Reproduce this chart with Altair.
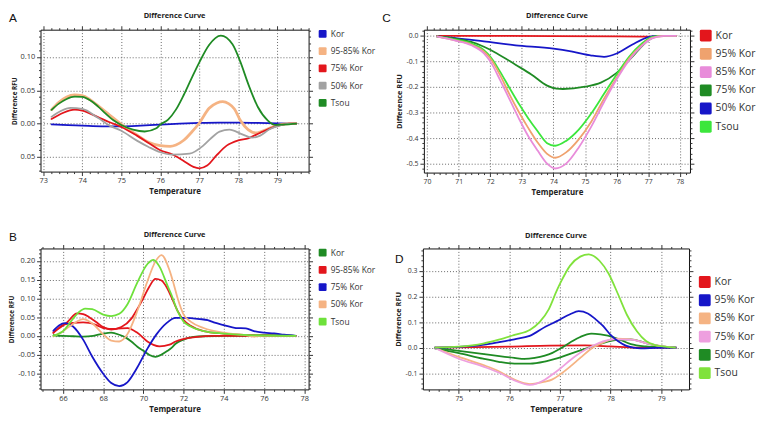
import altair as alt
import pandas as pd

# ---------------- Panel A ----------------
A_labels = ["Kor", "95-85% Kor", "75% Kor", "50% Kor", "Tsou"]
A_colors = ["#1616C8", "#F5B383", "#E3161C", "#A2A2A2", "#1F8B24"]
A_kor_x = [73.2, 73.5, 74.0, 74.5, 75.0, 75.5, 76.0, 76.5, 77.0, 77.5, 78.0, 78.5, 79.0, 79.5]
A_kor_y = [-0.001, -0.002, -0.003, -0.004, -0.004, -0.003, -0.0015, 0.0, 0.001, 0.0015, 0.0015, 0.001, 0.0005, 0.0]
A_o_x = [73.2, 73.4, 73.6, 73.8, 74.0, 74.2, 74.4, 74.7, 75.0, 75.4, 75.7, 76.0, 76.25, 76.4, 76.6, 76.8, 77.0, 77.25, 77.45, 77.6, 77.75, 77.9, 78.05, 78.25, 78.45, 78.75, 79.0, 79.3, 79.5]
A_o_y = [0.020, 0.032, 0.040, 0.043, 0.042, 0.036, 0.027, 0.013, -0.001, -0.017, -0.028, -0.033, -0.034, -0.032, -0.025, -0.013, 0.001, 0.023, 0.031, 0.033, 0.030, 0.022, 0.005, -0.009, -0.014, -0.008, -0.0025, 0.0, 0.0]
A_r_x = [73.2, 73.5, 73.8, 74.0, 74.4, 74.7, 75.0, 75.4, 75.7, 76.0, 76.3, 76.6, 76.85, 77.0, 77.2, 77.45, 77.7, 78.0, 78.25, 78.55, 78.8, 79.05, 79.3, 79.5]
A_r_y = [0.0064, 0.016, 0.021, 0.0196, 0.0098, 0.002, -0.005, -0.018, -0.029, -0.040, -0.046, -0.056, -0.065, -0.067, -0.063, -0.047, -0.033, -0.025, -0.022, -0.014, -0.0074, -0.0025, 0.0, 0.0]
A_g_x = [73.2, 73.45, 73.7, 74.0, 74.4, 74.7, 75.0, 75.4, 75.7, 76.0, 76.3, 76.75, 77.1, 77.3, 77.52, 77.77, 78.1, 78.35, 78.56, 78.8, 79.05, 79.3, 79.5]
A_g_y = [0.0098, 0.019, 0.0235, 0.022, 0.0088, -0.003, -0.0108, -0.0255, -0.035, -0.043, -0.0466, -0.045, -0.033, -0.022, -0.012, -0.009, -0.016, -0.021, -0.018, -0.0085, -0.003, 0.0, 0.0]
A_t_x = [73.2, 73.4, 73.6, 73.8, 74.0, 74.2, 74.4, 74.6, 74.8, 75.0, 75.3, 75.6, 75.9, 76.0, 76.2, 76.4, 76.6, 76.8, 77.0, 77.25, 77.55, 77.85, 78.05, 78.25, 78.5, 78.75, 78.95, 79.15, 79.5]
A_t_y = [0.020, 0.030, 0.037, 0.0405, 0.040, 0.035, 0.026, 0.015, 0.005, -0.002, -0.009, -0.0118, -0.007, -0.0015, 0.006, 0.021, 0.043, 0.068, 0.092, 0.118, 0.132, 0.119, 0.093, 0.060, 0.025, 0.005, -0.002, -0.0015, 0.0]

# ---------------- Panel B ----------------
B_labels = ["Kor", "95-85% Kor", "75% Kor", "50% Kor", "Tsou"]
B_colors = ["#1F8B24", "#E3161C", "#1616C8", "#F5B383", "#6EE13B"]
B_k_x = [65.5, 66.0, 66.5, 67.0, 67.5, 68.0, 68.4, 68.8, 69.1, 69.4, 69.7, 70.0, 70.3, 70.6, 70.9, 71.2, 71.4, 71.6, 72.0, 72.5, 73.0, 74.0, 75.0, 76.0, 77.0, 77.6]
B_k_y = [0.0017, 0.0, -0.001, -0.002, 0.0, 0.006, 0.0084, 0.003, -0.004, -0.015, -0.029, -0.040, -0.051, -0.056, -0.050, -0.040, -0.032, -0.021, -0.010, -0.003, -0.001, 0.0, 0.0, 0.002, 0.002, 0.0]
B_r1_x = [65.5, 65.8, 66.2, 66.7, 67.0, 67.3, 67.7, 68.0, 68.4, 68.9, 69.4, 69.7, 70.0, 70.3, 70.6, 70.9, 71.1, 71.4, 71.7, 72.0, 72.35, 73.0, 74.0, 75.0, 76.0, 77.6]
B_r1_y = [0.0084, 0.020, 0.036, 0.060, 0.058, 0.050, 0.035, 0.0235, 0.0168, 0.0235, 0.046, 0.072, 0.101, 0.132, 0.152, 0.148, 0.135, 0.103, 0.067, 0.042, 0.027, 0.0126, 0.006, 0.0025, 0.001, 0.0]
B_r2_x = [65.5, 66.0, 66.5, 67.0, 67.3, 67.7, 68.0, 68.6, 69.2, 69.7, 70.2, 70.5, 70.8, 71.3, 71.6, 72.0, 72.7, 73.5, 75.0, 77.6]
B_r2_y = [0.0067, 0.029, 0.035, 0.036, 0.035, 0.028, 0.021, 0.0185, 0.021, 0.0084, -0.015, -0.024, -0.028, -0.0235, -0.015, -0.0084, -0.0025, 0.0, 0.0, 0.0]
B_b_x = [65.5, 65.8, 66.1, 66.5, 67.0, 67.45, 68.0, 68.4, 68.8, 69.2, 69.7, 70.2, 70.65, 71.15, 71.6, 72.0, 72.8, 73.2, 73.5, 74.0, 74.6, 75.1, 75.5, 76.0, 76.5, 77.0, 77.6]
B_b_y = [0.0126, 0.028, 0.034, 0.025, -0.010, -0.055, -0.101, -0.126, -0.134, -0.124, -0.084, -0.034, 0.004, 0.034, 0.048, 0.048, 0.045, 0.042, 0.036, 0.029, 0.021, 0.020, 0.0126, 0.0084, 0.0067, 0.003, 0.0]
B_o_x = [65.5, 66.0, 66.5, 67.0, 67.45, 68.0, 68.4, 68.8, 69.2, 69.7, 70.2, 70.6, 70.9, 71.3, 71.5, 71.7, 72.0, 72.35, 73.0, 74.0, 75.0, 75.5, 76.0, 77.6]
B_o_y = [-0.0017, 0.0126, 0.032, 0.045, 0.0336, 0.0042, -0.0126, -0.015, 0.0042, 0.067, 0.146, 0.199, 0.216, 0.175, 0.140, 0.101, 0.057, 0.038, 0.021, 0.0084, 0.0025, -0.0017, 0.0, 0.0]
B_t_x = [65.5, 66.0, 66.5, 66.8, 67.1, 67.45, 68.0, 68.4, 68.8, 69.2, 69.7, 70.2, 70.5, 70.8, 71.2, 71.4, 71.7, 72.0, 72.35, 73.0, 74.0, 75.0, 77.6]
B_t_y = [0.0, 0.0126, 0.046, 0.064, 0.073, 0.0714, 0.057, 0.053, 0.059, 0.084, 0.143, 0.192, 0.203, 0.185, 0.134, 0.109, 0.066, 0.038, 0.025, 0.0126, 0.006, 0.0025, 0.0]

# ---------------- Panel C ----------------
C_labels = ["Kor", "95% Kor", "85% Kor", "75% Kor", "50% Kor", "Tsou"]
C_colors = ["#E3161C", "#EFA26E", "#E88CDA", "#1F8B24", "#1616C8", "#3CE63C"]
C_k_x = [70.3, 72.0, 74.0, 76.0, 77.0, 77.5, 77.9]
C_k_y = [0.0, -0.0005, -0.001, -0.002, -0.003, -0.001, 0.0]
C_b_x = [70.3, 70.9, 71.8, 72.8, 74.0, 74.6, 75.2, 75.6, 76.0, 76.5, 77.0, 77.3, 77.9]
C_b_y = [-0.0025, -0.009, -0.022, -0.037, -0.050, -0.062, -0.077, -0.082, -0.069, -0.034, -0.005, 0.0, 0.0]
C_g_x = [70.3, 70.9, 71.4, 71.8, 72.2, 72.8, 73.3, 73.8, 74.1, 74.3, 75.0, 75.5, 76.0, 76.5, 77.0, 77.3, 77.9]
C_g_y = [-0.0025, -0.011, -0.024, -0.043, -0.068, -0.113, -0.151, -0.195, -0.207, -0.208, -0.199, -0.183, -0.145, -0.081, -0.018, -0.001, 0.0]
C_t_x = [70.3, 70.9, 71.4, 71.8, 72.0, 72.3, 72.6, 72.9, 73.2, 73.5, 73.8, 74.05, 74.4, 74.8, 75.2, 75.6, 76.0, 76.4, 76.8, 77.1, 77.4, 77.9]
C_t_y = [-0.0025, -0.015, -0.030, -0.056, -0.081, -0.138, -0.202, -0.265, -0.322, -0.373, -0.420, -0.430, -0.411, -0.367, -0.303, -0.227, -0.151, -0.081, -0.030, -0.005, 0.0, 0.0]
C_o_x = [70.3, 70.9, 71.4, 71.8, 72.0, 72.3, 72.6, 72.9, 73.2, 73.5, 73.8, 74.05, 74.4, 74.8, 75.2, 75.6, 76.0, 76.4, 76.8, 77.1, 77.5, 77.9]
C_o_y = [-0.0025, -0.018, -0.034, -0.062, -0.088, -0.151, -0.227, -0.297, -0.360, -0.4175, -0.462, -0.477, -0.456, -0.405, -0.335, -0.246, -0.164, -0.088, -0.037, -0.009, 0.0, 0.0]
C_p_x = [70.3, 70.9, 71.4, 71.8, 72.0, 72.3, 72.6, 72.9, 73.2, 73.5, 73.8, 74.05, 74.4, 74.8, 75.2, 75.6, 76.0, 76.4, 76.8, 77.1, 77.5, 77.9]
C_p_y = [-0.0025, -0.019, -0.037, -0.0685, -0.100, -0.170, -0.246, -0.322, -0.392, -0.449, -0.500, -0.519, -0.500, -0.4365, -0.354, -0.259, -0.170, -0.094, -0.039, -0.011, 0.0, 0.0]

# ---------------- Panel D ----------------
D_labels = ["Kor", "95% Kor", "85% Kor", "75% Kor", "50% Kor", "Tsou"]
D_colors = ["#E3161C", "#1616C8", "#F5B383", "#EE9FDF", "#1F8B24", "#80E23C"]
D_k_x = [74.52, 75.0, 76.0, 76.8, 77.5, 78.0, 78.5, 79.3]
D_k_y = [0.0, 0.001, 0.004, 0.008, 0.009, 0.005, 0.0, 0.0]
D_b_x = [74.52, 75.0, 75.5, 75.8, 76.1, 76.4, 76.72, 76.94, 77.2, 77.37, 77.55, 77.7, 77.85, 78.0, 78.15, 78.3, 78.45, 78.6, 78.9, 79.3]
D_b_y = [0.0, 0.003, 0.012, 0.022, 0.033, 0.046, 0.083, 0.104, 0.131, 0.143, 0.134, 0.112, 0.085, 0.050, 0.025, 0.008, 0.0, -0.003, -0.001, 0.0]
D_o_x = [74.52, 75.0, 75.5, 75.8, 76.1, 76.4, 76.7, 76.84, 77.0, 77.2, 77.4, 77.65, 77.85, 78.1, 78.4, 78.7, 79.0, 79.3]
D_o_y = [0.0, -0.036, -0.069, -0.093, -0.125, -0.142, -0.133, -0.125, -0.105, -0.074, -0.040, 0.001, 0.020, 0.035, 0.033, 0.018, 0.006, 0.0]
D_p_x = [74.52, 75.0, 75.5, 75.8, 76.1, 76.4, 76.7, 76.84, 77.0, 77.2, 77.4, 77.65, 77.85, 78.05, 78.4, 78.7, 79.0, 79.3]
D_p_y = [0.0, -0.043, -0.075, -0.098, -0.128, -0.145, -0.125, -0.106, -0.082, -0.049, -0.020, 0.0075, 0.025, 0.033, 0.032, 0.018, 0.006, 0.0]
D_g1_x = [74.52, 75.0, 75.5, 75.8, 76.1, 76.3, 76.5, 76.7, 76.84, 77.0, 77.2, 77.4, 77.62, 77.8, 78.09, 78.4, 78.7, 79.0, 79.3]
D_g1_y = [0.0, -0.012, -0.025, -0.033, -0.040, -0.044, -0.040, -0.031, -0.021, -0.004, 0.020, 0.042, 0.055, 0.052, 0.039, 0.014, 0.005, 0.002, 0.0]
D_g2_x = [74.52, 75.0, 75.48, 75.79, 76.1, 76.41, 76.72, 76.94, 77.2, 77.65, 78.09, 78.4, 78.7, 79.02, 79.3]
D_g2_y = [-0.0025, -0.021, -0.043, -0.055, -0.062, -0.062, -0.053, -0.042, -0.024, 0.005, 0.030, 0.033, 0.018, 0.005, 0.0]
D_t_x = [74.52, 75.0, 75.48, 75.79, 76.1, 76.41, 76.6, 76.78, 76.94, 77.02, 77.2, 77.4, 77.57, 77.78, 77.96, 78.15, 78.33, 78.52, 78.7, 78.89, 79.07, 79.29]
D_t_y = [0.0, 0.004, 0.0164, 0.0314, 0.050, 0.070, 0.101, 0.151, 0.225, 0.258, 0.321, 0.356, 0.365, 0.340, 0.290, 0.208, 0.126, 0.064, 0.026, 0.010, 0.004, 0.0]

FONT = "Open Sans"
RSQ = "M-0.75,-1 L0.75,-1 Q1,-1 1,-0.75 L1,0.75 Q1,1 0.75,1 L-0.75,1 Q-1,1 -1,0.75 L-1,-0.75 Q-1,-1 -0.75,-1 Z"


def frame(series):
    rows = []
    for label, line_id, xs, ys in series:
        for x, y in zip(xs, ys):
            rows.append({"series": label, "line": line_id, "t": x, "v": y})
    return pd.DataFrame(rows)


def vals(lo, hi, step):
    n = int(round((hi - lo) / step))
    return [round(lo + i * step, 4) for i in range(n + 1)]


def major(step):
    return f"abs(datum.value / {step} - round(datum.value / {step})) < 0.001"


def panel(df, labels, colors, letter, lx, ly, w, h, xdom, ydom, xv, xmaj, yv, ymaj,
          yfmt, lab_fs, ytitle_fs, leg_fs, sym, row_pad, title_off, leg_gap=None,
          absy=False, thick=None):
    tx, ty = major(xmaj), major(ymaj)
    if absy:
        ylab = f"{ty} ? format(abs(datum.value), '{yfmt}') : ''"
    else:
        ylab = f"{ty} ? replace(format(datum.value, '{yfmt}'), '\u2212', '-') : ''"
    tick_x = {"condition": {"test": tx, "value": 4}, "value": 2}
    tick_y = {"condition": {"test": ty, "value": 4}, "value": 2}
    xs = alt.Scale(domain=xdom, nice=False, zero=False)
    ys = alt.Scale(domain=ydom, nice=False, zero=False)
    cs = alt.Scale(domain=labels, range=colors)
    leg_kw = dict(orient="right", offset=5, symbolType=RSQ, symbolSize=sym * sym,
                  symbolStrokeWidth=0, labelFont=FONT, labelFontSize=leg_fs,
                  labelColor="#333333", rowPadding=row_pad, labelOffset=4, padding=0)
    if leg_gap:
        leg_kw.update(title=" ", titleFontSize=leg_gap[0], titlePadding=leg_gap[1])
    else:
        leg_kw.update(title=None)
    base = alt.Chart(df)
    pts = base.mark_point(filled=True, size=1, opacity=1).encode(
        x=alt.X("t:Q", scale=xs, axis=alt.Axis(orient="top", values=xv, labels=False, title=None,
                                               grid=False, domain=False, tickSize=tick_x)),
        y=alt.Y("v:Q", scale=ys, axis=alt.Axis(orient="right", values=yv, labels=False, title=None,
                                               grid=False, domain=False, tickSize=tick_y)),
        color=alt.Color("series:N", scale=cs, legend=alt.Legend(**leg_kw)),
    )
    sw = alt.value(1.8)
    if thick:
        sw = alt.condition(alt.datum.series == thick, alt.value(2.8), alt.value(1.8))
    lines = base.mark_line(interpolate="monotone").encode(
        x=alt.X("t:Q", scale=xs, axis=alt.Axis(
            orient="bottom", values=xv, title="Temperature", domain=False, grid=True,
            labelExpr=f"{tx} ? format(datum.value, 'd') : ''", tickSize=tick_x,
            gridOpacity={"condition": {"test": tx, "value": 1}, "value": 0},
            labelFlush=False, labelOverlap=False, labelFontSize=lab_fs, labelPadding=1,
            titlePadding=4)),
        y=alt.Y("v:Q", scale=ys, axis=alt.Axis(
            orient="left", values=yv, title="Difference RFU", domain=False, grid=True,
            labelExpr=ylab, tickSize=tick_y,
            gridOpacity={"condition": {"test": ty, "value": 1}, "value": 0},
            labelFlush=False, labelOverlap=False, labelFontSize=lab_fs, labelPadding=2,
            titlePadding=3, titleFontSize=ytitle_fs)),
        color=alt.Color("series:N", scale=cs, legend=None),
        detail="line:N",
        strokeWidth=sw,
    )
    let = alt.Chart(pd.DataFrame({"L": [letter]})).mark_text(
        font="Liberation Sans", fontSize=12, color="#111111", baseline="middle", align="center"
    ).encode(text="L:N", x=alt.value(lx), y=alt.value(ly))
    return alt.layer(pts, lines, let).resolve_axis(x="independent", y="independent").properties(
        width=w, height=h,
        title=alt.TitleParams("Difference Curve", font=FONT, fontSize=7.5, fontWeight="bold",
                              color="#222222", frame="group", anchor="middle", offset=title_off),
    )


dfA = frame([("Kor", "a1", A_kor_x, A_kor_y), ("95-85% Kor", "a2", A_o_x, A_o_y),
             ("75% Kor", "a3", A_r_x, A_r_y), ("50% Kor", "a4", A_g_x, A_g_y),
             ("Tsou", "a5", A_t_x, A_t_y)])
dfB = frame([("Kor", "b1", B_k_x, B_k_y), ("95-85% Kor", "b2", B_r1_x, B_r1_y),
             ("95-85% Kor", "b3", B_r2_x, B_r2_y), ("75% Kor", "b4", B_b_x, B_b_y),
             ("50% Kor", "b5", B_o_x, B_o_y), ("Tsou", "b6", B_t_x, B_t_y)])
dfC = frame([("Kor", "c1", C_k_x, C_k_y), ("50% Kor", "c2", C_b_x, C_b_y),
             ("75% Kor", "c3", C_g_x, C_g_y), ("Tsou", "c4", C_t_x, C_t_y),
             ("95% Kor", "c5", C_o_x, C_o_y), ("85% Kor", "c6", C_p_x, C_p_y)])
dfD = frame([("Kor", "d1", D_k_x, D_k_y), ("50% Kor", "d2", D_g1_x, D_g1_y),
             ("50% Kor", "d3", D_g2_x, D_g2_y), ("85% Kor", "d4", D_o_x, D_o_y),
             ("75% Kor", "d5", D_p_x, D_p_y), ("95% Kor", "d6", D_b_x, D_b_y),
             ("Tsou", "d7", D_t_x, D_t_y)])

pA = panel(dfA, A_labels, A_colors, "A", -28, -12, 272, 144, [72.93, 79.8], [-0.072, 0.141],
           vals(73.0, 79.8, 0.2), 1, vals(-0.07, 0.14, 0.01), 0.05, ".2f", 7.5, 6.5, 8.5, 8, 8.5, -8,
           absy=True, thick="95-85% Kor")
pB = panel(dfB, B_labels, B_colors, "B", -28, -12, 272, 143, [64.88, 78.22], [-0.143, 0.2335],
           vals(65.0, 78.0, 0.5), 2, vals(-0.14, 0.23, 0.01), 0.05, ".2f", 7.5, 6.5, 8.5, 8, 8.5, -8)
pC = panel(dfC, C_labels, C_colors, "C", -38, -12, 270, 145, [69.9, 78.32], [-0.535, 0.024],
           vals(70.0, 78.2, 0.2), 1, vals(-0.52, 0.02, 0.02), 0.1, ".1f", 7, 7.5, 10.5, 12, 6.5, -8)
pD = panel(dfD, D_labels, D_colors, "D", -24, 11, 270, 143, [74.29, 79.55], [-0.163, 0.388],
           vals(74.4, 79.4, 0.2), 1, vals(-0.16, 0.38, 0.02), 0.1, ".1f", 7, 7.5, 10.5, 12, 6.5, 5,
           leg_gap=(10, 18))

chart = alt.vconcat(
    alt.hconcat(pA, pC, spacing=5).resolve_scale(color="independent").resolve_legend(color="independent"),
    alt.hconcat(pB, pD, spacing=17).resolve_scale(color="independent").resolve_legend(color="independent"),
    spacing=33,
).resolve_scale(color="independent").resolve_legend(color="independent").properties(
    padding={"left": 0, "top": 0, "right": 0, "bottom": 0}
).configure_view(
    stroke="#111111", strokeWidth=1
).configure_axis(
    labelFont=FONT, labelColor="#333333", tickColor="#333333", tickWidth=1,
    titleFont=FONT, titleFontWeight="bold", titleFontSize=8, titleColor="#222222",
    gridColor="#666666", gridDash=[1, 2], gridWidth=1,
).configure_text(font=FONT)

chart.save("out.html", embed_options={"renderer": "svg", "actions": False})
